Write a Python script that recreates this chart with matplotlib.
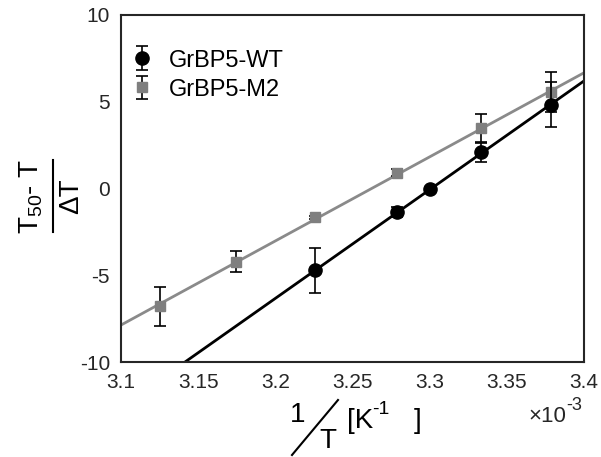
import matplotlib
matplotlib.use("Agg")
import matplotlib.pyplot as plt
from matplotlib.lines import Line2D
from matplotlib.ticker import FuncFormatter

plt.rcParams['font.family'] = ['Liberation Sans', 'DejaVu Sans']
plt.rcParams['mathtext.fontset'] = 'custom'
plt.rcParams['mathtext.rm'] = 'Liberation Sans'
plt.rcParams['mathtext.it'] = 'Liberation Sans'
plt.rcParams['mathtext.bf'] = 'Liberation Sans:bold'
plt.rcParams['axes.unicode_minus'] = False

# ---- data ----
wt_x = [1/310, 1/305, 1/303, 1/300, 1/296]
wt_y = [-4.72, -1.35, 0.0, 2.08, 4.82]
wt_err = [1.3, 0.3, 0.0, 0.57, 1.3]

m2_x = [1/320, 1/315, 1/310, 1/305, 1/300, 1/296]
m2_y = [-6.8, -4.22, -1.66, 0.92, 3.47, 5.58]
m2_err = [1.1, 0.62, 0.1, 0.2, 0.8, 1.15]

fit_x = [3.1e-3, 3.4e-3]
wt_fit_y = [-12.6, 6.2]
m2_fit_y = [-7.87, 6.67]

x_ticks = [3.1e-3, 3.15e-3, 3.2e-3, 3.25e-3, 3.3e-3, 3.35e-3, 3.4e-3]
y_ticks = [-10, -5, 0, 5, 10]

W, H = 601, 457
fig = plt.figure(figsize=(W/100, H/100), dpi=100)
ax = fig.add_axes([121/W, 1-362/H, (584-121)/W, (362-15)/H])

gray = '#7f7f7f'
tick_col = '#262626'
ax.plot(fit_x, wt_fit_y, color='black', lw=2, zorder=2)
ax.plot(fit_x, m2_fit_y, color='#8a8a8a', lw=2, zorder=2)
ax.errorbar(m2_x, m2_y, yerr=m2_err, fmt='s', color=gray, ecolor='black',
            ms=7, elinewidth=1.2, capsize=4.5, capthick=1.2, label='GrBP5-M2', zorder=3)
ax.errorbar(wt_x, wt_y, yerr=wt_err, fmt='o', color='black', ecolor='black',
            ms=9.5, elinewidth=1.2, capsize=4.5, capthick=1.2, label='GrBP5-WT', zorder=4)

ax.set_xlim(3.1e-3, 3.4e-3)
ax.set_ylim(-10, 10)
ax.set_xticks(x_ticks)
ax.set_yticks(y_ticks)
ax.xaxis.set_major_formatter(FuncFormatter(lambda v, p: f'{v*1e3:g}'))
ax.tick_params(length=0, labelsize=15, labelcolor=tick_col, pad=8)
for s in ax.spines.values():
    s.set_linewidth(1.5)
    s.set_color(tick_col)

h, l = ax.get_legend_handles_labels()
leg = ax.legend(h[::-1], l[::-1], loc='upper left', frameon=False, fontsize=17,
                bbox_to_anchor=(-0.02, 0.955), handlelength=1.0, handletextpad=0.6,
                labelspacing=0.3, borderaxespad=0.4)

def fx(px):
    return px / W
def fy(py):
    return 1 - py / H

# offset text x10^-3
fig.text(fx(566), fy(417), '×10', fontsize=16, ha='right', va='center', color=tick_col)
fig.text(fx(566), fy(406), '-3', fontsize=13, ha='left', va='center', color=tick_col)

# y label (stacked fraction)
fig.text(fx(31), fy(197), r'T$_{50}$- T', rotation=90, fontsize=20,
         ha='center', va='center', color='black')
fig.add_artist(Line2D([fx(53), fx(53)], [fy(160), fy(232)], color='black', lw=1.5,
                      transform=fig.transFigure))
fig.text(fx(71), fy(196), 'ΔT', rotation=90, fontsize=20,
         ha='center', va='center', color='black')

# x label (slashed fraction)
fig.text(fx(298), fy(415), '1', fontsize=20, ha='center', va='center')
fig.add_artist(Line2D([fx(292), fx(338)], [fy(455), fy(400)], color='black', lw=1.5,
                      transform=fig.transFigure))
fig.text(fx(328), fy(441), 'T', fontsize=20, ha='center', va='center')
fig.text(fx(347), fy(421), '[K', fontsize=20, ha='left', va='center')
fig.text(fx(372), fy(409), '-1', fontsize=14, ha='left', va='center')
fig.text(fx(414), fy(421), ']', fontsize=20, ha='left', va='center')

fig.savefig('out.png', dpi=100)
